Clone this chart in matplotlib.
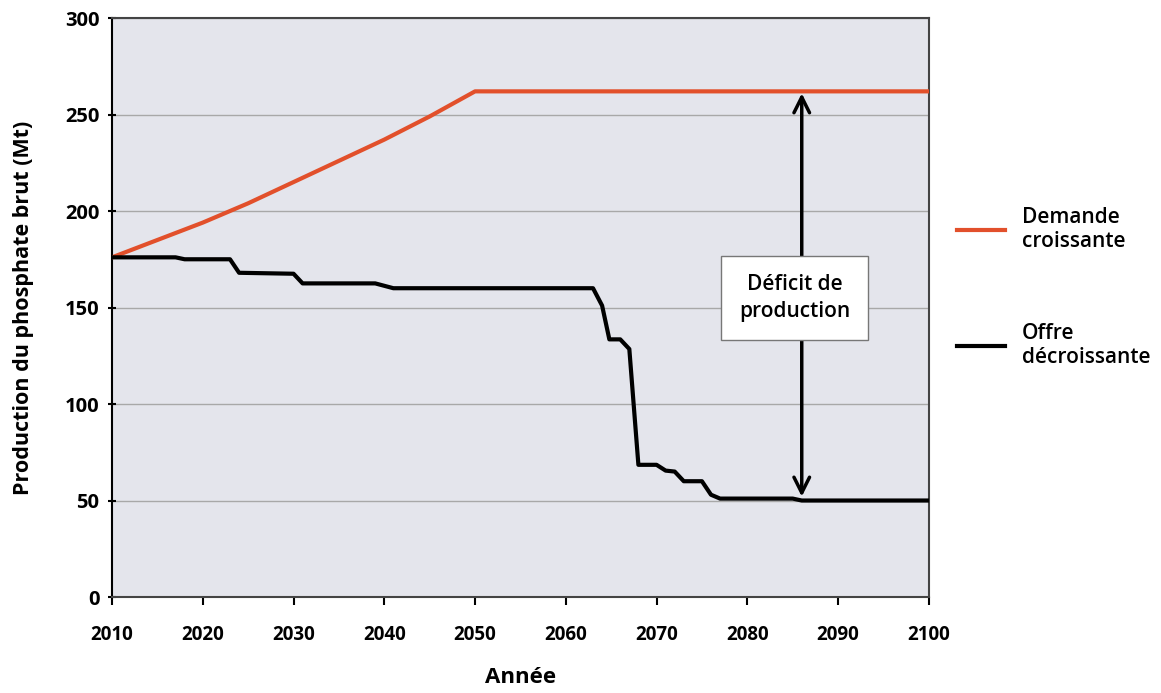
import matplotlib.pyplot as plt

plt.rcParams['font.family'] = ['Open Sans', 'DejaVu Sans']

# Demande croissante (Mt)
demand_years = [2010, 2015, 2020, 2025, 2030, 2035, 2040, 2045, 2050, 2100]
demand = [176, 185, 194, 204, 215, 226, 237, 249, 262, 262]

# Offre décroissante (Mt)
supply_years = [2010, 2017, 2018, 2023, 2024, 2030, 2031, 2039, 2041, 2063,
                2064, 2064.8, 2066, 2067, 2068, 2070, 2071, 2072, 2073, 2075,
                2076, 2077, 2085, 2086, 2100]
supply = [176, 176, 175, 175, 168, 167.5, 162.5, 162.5, 160, 160,
          151, 133.5, 133.5, 128.5, 68.5, 68.5, 65.5, 65, 60, 60,
          53, 51, 51, 50, 50]

xticks = list(range(2010, 2101, 10))
yticks = list(range(0, 301, 50))

fig = plt.figure(figsize=(11.61, 6.93), dpi=100)
ax = fig.add_axes([0.0965, 0.1385, 0.7035, 0.8355])
ax.set_facecolor('#e4e5ec')

ax.plot(demand_years, demand, color='#e2502b', lw=3, label='Demande\ncroissante', zorder=3)
ax.plot(supply_years, supply, color='black', lw=3, label='Offre\ndécroissante', zorder=3)

ax.set_xlim(2010, 2100)
ax.set_ylim(0, 300)
ax.set_xticks(xticks)
ax.set_yticks(yticks)
ax.grid(axis='y', color='#a8a8a8', lw=1)
ax.set_axisbelow(True)
for s in ax.spines.values():
    s.set_color('#444444')
    s.set_linewidth(1.5)
ax.spines['left'].set_color('black')
ax.tick_params(axis='x', length=6, width=1.5, pad=14, labelsize=13.5)
ax.tick_params(axis='y', length=6, width=1.5, direction='inout', labelsize=14.5, pad=6)
for lbl in ax.get_xticklabels() + ax.get_yticklabels():
    lbl.set_fontweight('bold')

ax.set_xlabel('Année', fontsize=16, fontweight='bold', labelpad=16)
ax.set_ylabel('Production du phosphate brut (Mt)', fontsize=15.5, fontweight='bold', labelpad=22)

# flèche du déficit
ax.annotate('', xy=(2086, 52), xytext=(2086, 261),
            arrowprops=dict(arrowstyle='<->', color='black', lw=2.5,
                            mutation_scale=28, shrinkA=0, shrinkB=0), zorder=4)
ax.text(2085.2, 155, 'Déficit de\nproduction', ha='center', va='center',
        fontsize=15, fontweight='semibold', linespacing=1.4, zorder=5,
        bbox=dict(boxstyle='square,pad=0.85', fc='white', ec='#777777', lw=1))

leg = ax.legend(loc='center left', bbox_to_anchor=(1.012, 0.535), frameon=False,
                handlelength=2.3, labelspacing=3.4, handletextpad=0.8,
                prop={'weight': 'semibold', 'size': 15})

fig.savefig('out.png', dpi=100)
